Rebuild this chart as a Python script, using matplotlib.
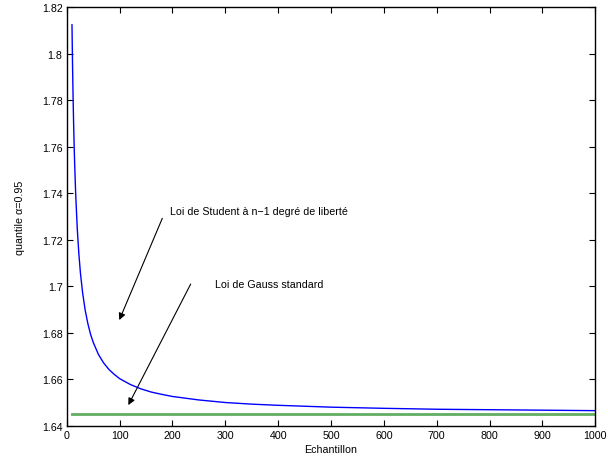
import matplotlib
matplotlib.use("Agg")
import matplotlib.pyplot as plt

# values
n_vals = [10, 11, 12, 13, 14, 15, 17, 20, 23, 26, 30, 35, 40, 45, 50, 60, 70, 80,
          90, 100, 120, 140, 160, 180, 200, 250, 300, 350, 400, 500, 600, 700,
          800, 900, 1000]
student = [1.8125, 1.7959, 1.7823, 1.7709, 1.7613, 1.7531, 1.7396, 1.7247,
           1.7139, 1.7056, 1.6973, 1.6896, 1.6839, 1.6794, 1.6759, 1.6706,
           1.6669, 1.6641, 1.6620, 1.6602, 1.6577, 1.6558, 1.6544, 1.6534,
           1.6525, 1.6510, 1.6499, 1.6492, 1.6487, 1.6479, 1.6474, 1.6470,
           1.6468, 1.6466, 1.6464]
gauss_x = [10, 1000]
gauss = [1.6449, 1.6449]

xticks = list(range(0, 1001, 100))
yticks = [1.64, 1.66, 1.68, 1.70, 1.72, 1.74, 1.76, 1.78, 1.80, 1.82]

plt.rcParams["font.family"] = ["Liberation Sans", "DejaVu Sans"]
plt.rcParams["font.size"] = 7.7

fig = plt.figure(figsize=(6.08, 4.6), dpi=100)
ax = fig.add_axes([0.1097, 0.0728, 0.8694, 0.909])

ax.plot(n_vals, student, color="#0000ff", linewidth=1)
ax.plot(gauss_x, gauss, color="#62ae62", linewidth=2)

ax.set_xlim(0, 1000)
ax.set_ylim(1.64, 1.82)
ax.set_xticks(xticks)
ax.set_yticks(yticks)
ax.set_xticklabels([str(t) for t in xticks])
ax.set_yticklabels(["%g" % t for t in yticks])
ax.tick_params(direction="in", top=True, right=True, length=4, width=0.8, pad=3)
for s in ax.spines.values():
    s.set_linewidth(1)

ax.set_xlabel("Echantillon", labelpad=3)
ax.set_ylabel("quantile α=0.95", labelpad=12)

ax.text(195.4, 1.7324, "Loi de Student à n\u22121 degré de liberté", va="center", ha="left")
ax.text(280.6, 1.7009, "Loi de Gauss standard", va="center", ha="left")

arrow = dict(arrowstyle="-|>", color="black", lw=0.8, mutation_scale=10, shrinkA=0, shrinkB=0)
ax.annotate("", xy=(99.5, 1.6854), xytext=(180.9, 1.7292), arrowprops=arrow)
ax.annotate("", xy=(116.6, 1.6488), xytext=(234.6, 1.7009), arrowprops=arrow)

fig.savefig("out.png", dpi=100)
